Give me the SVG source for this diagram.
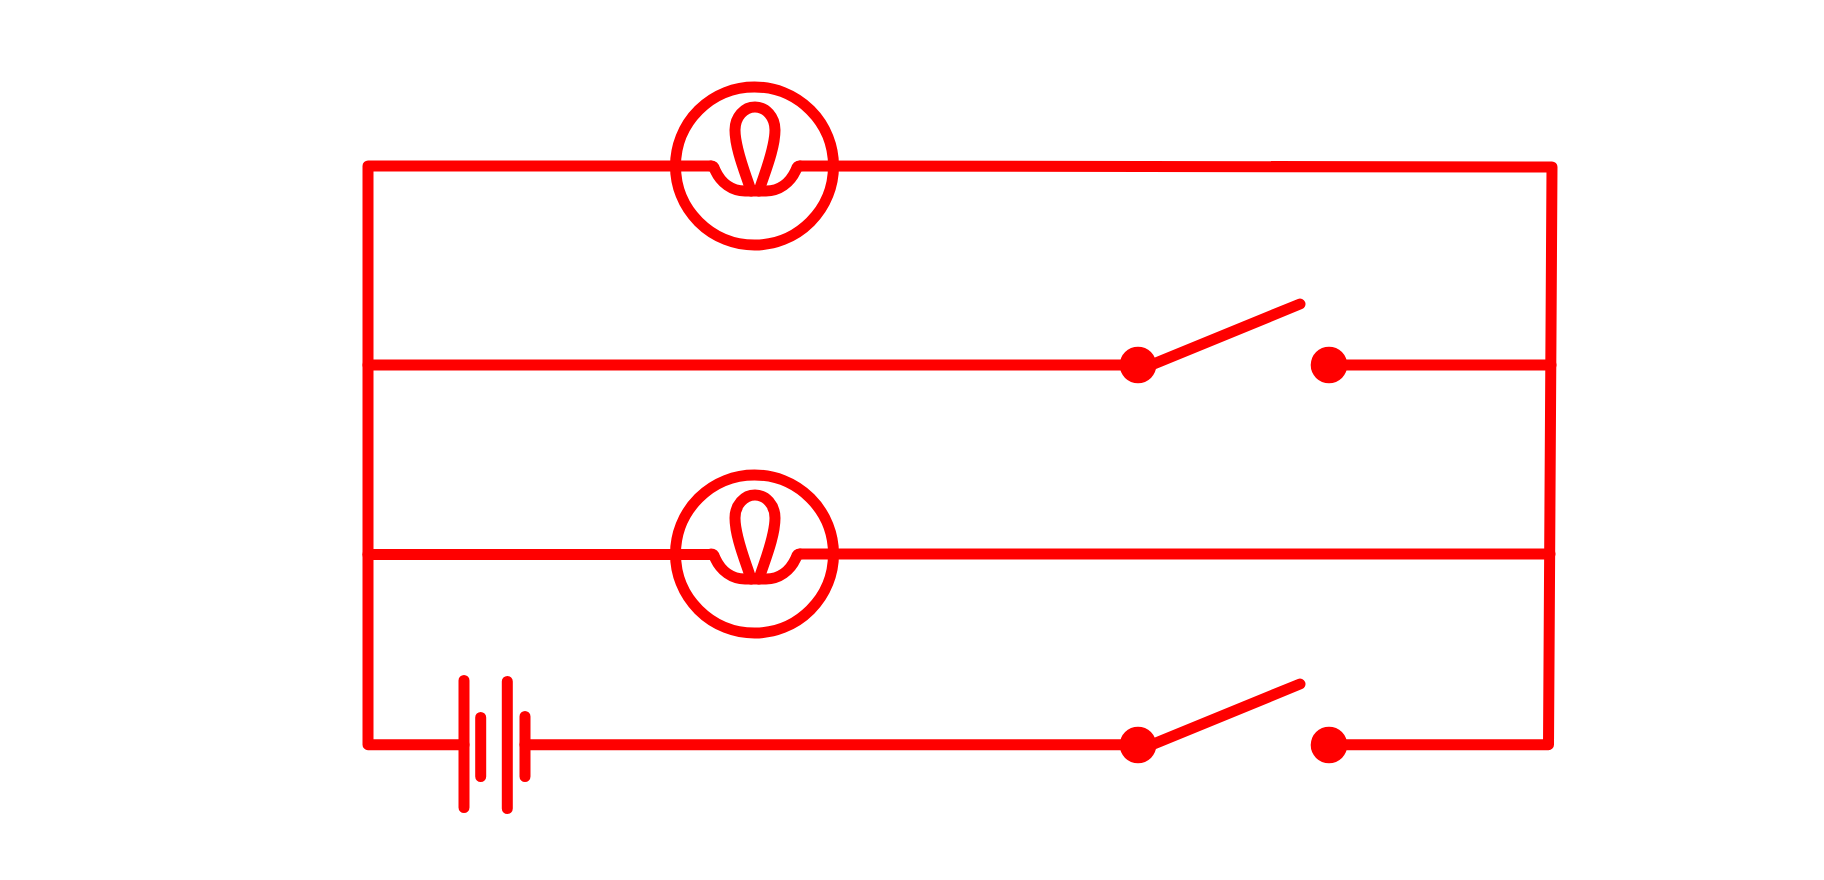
<svg xmlns="http://www.w3.org/2000/svg" width="1824" height="880" viewBox="0 0 1824 880">
<style>
.w{fill:none;stroke:#f00;stroke-width:11;stroke-linecap:round;stroke-linejoin:round}
.d{fill:#f00}
</style>
<defs>
<g id="lampShape">
<circle class="w" cx="754.5" cy="166" r="79"/>
<path class="w" d="M711 166Q714 166 715 170C721 183 732 191 745 191H766C779 191 790 183 796 170Q797 166 800 166"/>
<path class="w" d="M751 191C747 177 735 150 735 130C735 117 744 107 755 107C766 107 775 117 775 130C775 150 763 177 759 191"/>
</g>
</defs>
<rect width="1824" height="880" fill="#fff"/>
<g id="connectors">
<path class="w" d="M711 166H368V744.7H464"/>
<path class="w" d="M800 166L1552 167L1548.5 744.7H1329"/>
<path class="w" d="M368 365H1138"/>
<path class="w" d="M1329 365H1551"/>
<path class="w" d="M368 554.5H711"/>
<path class="w" d="M800 554H1550"/>
<path class="w" d="M525 744.7H1138"/>
</g>
<g id="lamp1"><use href="#lampShape"/></g>
<g id="lamp2"><use href="#lampShape" y="388"/></g>
<g id="battery">
<path class="w" d="M464 680.5V807.5M480.7 717.5V776.5M507.3 681.5V808.5M525 716.5V776.5"/>
</g>
<g id="switch1">
<circle class="d" cx="1138" cy="365" r="18.3"/>
<circle class="d" cx="1329" cy="365" r="18.3"/>
<path class="w" d="M1138 370.3L1300 304"/>
</g>
<g id="switch2">
<circle class="d" cx="1138" cy="745" r="18.3"/>
<circle class="d" cx="1329" cy="745" r="18.3"/>
<path class="w" d="M1138 750.3L1300 684"/>
</g>
</svg>
